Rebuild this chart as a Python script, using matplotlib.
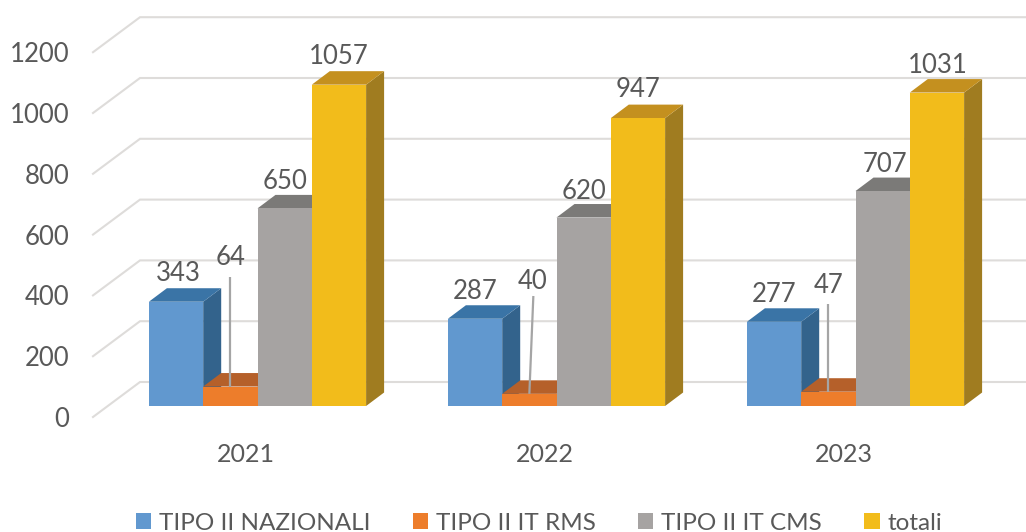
import matplotlib
matplotlib.use("Agg")
import matplotlib.pyplot as plt
from matplotlib.patches import Polygon, Patch

years = ["2021", "2022", "2023"]
series = ["TIPO II NAZIONALI", "TIPO II IT RMS", "TIPO II IT CMS", "totali"]
nazionali = [343, 287, 277]
rms = [64, 40, 47]
cms = [650, 620, 707]
totali = [1057, 947, 1031]
values = [nazionali, rms, cms, totali]
yticks = [0, 200, 400, 600, 800, 1000, 1200]

front = ["#6198CF", "#ED7D2B", "#A6A3A2", "#F2BC1B"]
top = ["#3A74A6", "#B5602A", "#7B7A78", "#C4901F"]
side = ["#33638C", "#8F4E22", "#6E6C6B", "#A07C20"]
text_col = "#595959"
grid_col = "#DEDCDA"

# scale factors (pixels per data unit)
W, H = 1026, 532
PX_X, PX_Y = 299.0, 0.304
X0_PX, Y0_PX = 257.5, 406.0

fig = plt.figure(figsize=(W / 100, H / 100), dpi=100, facecolor="white")
ax = fig.add_axes([0, 0, 1, 1])
ax.set_xlim(-X0_PX / PX_X, (W - X0_PX) / PX_X)
ax.set_ylim(-(H - Y0_PX) / PX_Y, Y0_PX / PX_Y)
ax.axis("off")
plt.rcParams["font.family"] = ["Lato", "DejaVu Sans"]


def dx(p):
    return p / PX_X


def dy(p):
    return p / PX_Y


bar_w = dx(54.3)
depth_x, depth_y = dx(18), dy(13.5)

# walls: gridlines on the back wall and diagonals on the side wall
wall_left = dx(140 - X0_PX)
wall_right = dx(1026 - X0_PX)
wall_dx = dx(47)
back_shift = dy(24)
front_shift = dy(-11)
for t in yticks:
    ax.plot([wall_left - wall_dx, wall_left, wall_right],
            [t + front_shift, t + back_shift, t + back_shift],
            color=grid_col, lw=1.5, solid_joinstyle="miter", zorder=1)
    ax.text(dx(69 - X0_PX), t + front_shift, str(t), ha="right", va="center_baseline",
            fontsize=18.5, color=text_col)

lift = [[31, 132, 29, 31], [30, 115, 29, 31], [30, 109, 29, 30]]
label_shift = [[2, 0, 0, 0], [0, 3, 0, 0], [0, 0, 2, 1]]
leader_top = [277, 296, 304]
leader_lean = [0, 4, 0]

z = 2
for g, year in enumerate(years):
    left = g - 2 * bar_w
    for s, vals in enumerate(values):
        v = vals[g]
        x0 = left + s * bar_w
        x1 = x0 + bar_w
        ax.add_patch(Polygon([(x1, 0), (x1 + depth_x, depth_y), (x1 + depth_x, v + depth_y), (x1, v)],
                             closed=True, fc=side[s], ec="none", zorder=z))
        ax.add_patch(Polygon([(x0, v), (x0 + depth_x, v + depth_y), (x1 + depth_x, v + depth_y), (x1, v)],
                             closed=True, fc=top[s], ec="none", zorder=z))
        ax.bar(x0, v, width=bar_w, align="edge", color=front[s], linewidth=0, zorder=z + 0.5)
        z += 1
        ax.annotate(str(v), (x0 + bar_w / 2, v), xytext=(label_shift[g][s] * 0.72, lift[g][s] * 0.72),
                    textcoords="offset points", ha="center", va="center_baseline",
                    fontsize=18.5, color=text_col, zorder=50)
    # leader line from the small orange bar up to its label
    xl = left + 1.5 * bar_w
    ax.plot([xl, xl + dx(leader_lean[g])], [rms[g], (Y0_PX - leader_top[g]) / PX_Y],
            color="#A5A5A5", lw=1.6, solid_capstyle="butt", zorder=40)
    ax.text(g - dx(12), dy(-47), year, ha="center", va="center_baseline",
            fontsize=18, color=text_col)

handles = [Patch(fc=c, ec="none", label=n) for c, n in zip(front, series)]
leg = fig.legend(handles=handles, ncol=4, loc="center", bbox_to_anchor=(539 / W, 1 - 523 / H),
                 frameon=False, fontsize=17.5, labelcolor=text_col, handlelength=0.64,
                 handleheight=0.64, handletextpad=0.33, columnspacing=1.72,
                 borderpad=0, borderaxespad=0)

fig.savefig("out.png", dpi=100, facecolor="white")
